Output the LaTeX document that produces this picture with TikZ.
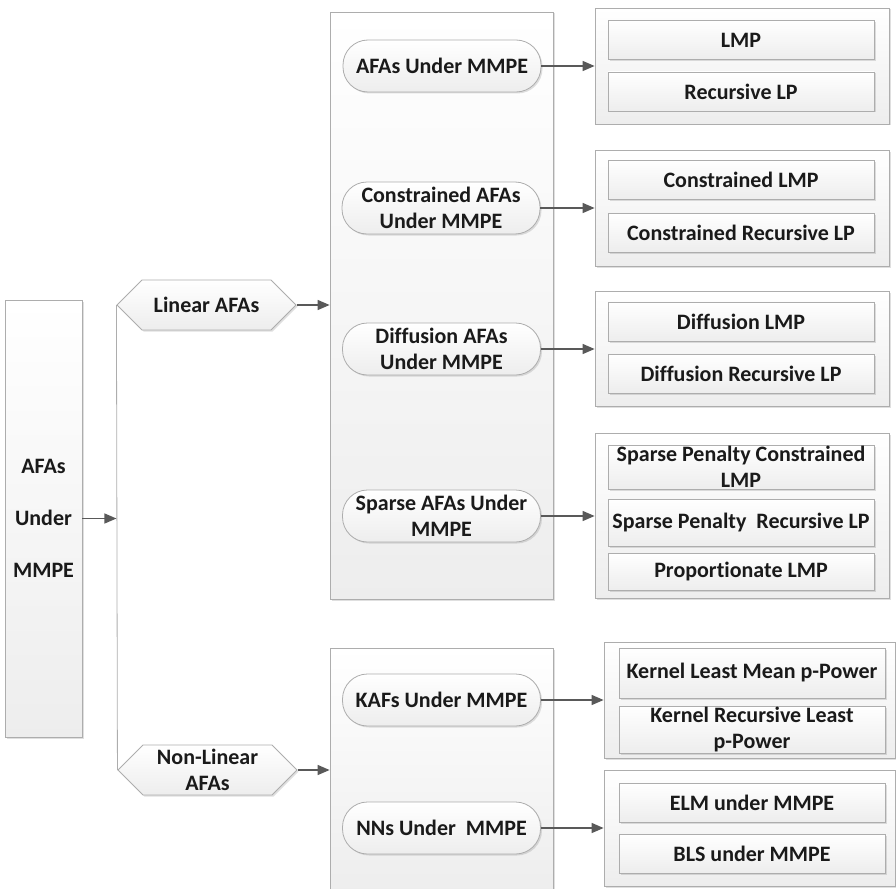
\documentclass[tikz,border=0pt]{standalone}
\usepackage{fontspec}
\setmainfont{Carlito}[Ligatures=NoCommon]
\usetikzlibrary{arrows.meta,shadows,shapes.symbols}
\definecolor{edgegray}{HTML}{ADADAD}
\definecolor{arrowgray}{HTML}{595959}
\definecolor{inkgray}{HTML}{1A1A1A}
\begin{document}
\begin{tikzpicture}[x=1pt,y=-1pt,
  every node/.style={font=\fontsize{22}{26.5}\selectfont\bfseries,text=inkgray,align=center,inner sep=0pt},
  panel/.style={draw=edgegray,line width=.8pt,top color=white,bottom color=black!7,
    drop shadow={shadow xshift=1.5pt,shadow yshift=-1.5pt,opacity=.25}},
  item/.style={panel,minimum width=266pt,minimum height=39pt},
  pill/.style={panel,rounded corners=25pt,minimum width=198pt,minimum height=52pt},
  hexa/.style={panel,signal,signal to=west and east,signal pointer angle=90,minimum width=179pt,minimum height=50pt},
  arr/.style={draw=arrowgray,line width=1.4pt,-{Triangle[length=12pt,width=10pt]}}]
\useasboundingbox (0,0) rectangle (896,888);
\node[panel,minimum width=77pt,minimum height=437pt] (root) at (43.5,518.5) {AFAs\\[25.5pt]Under\\[25.5pt]MMPE};
\node[panel,minimum width=223pt,minimum height=587pt] (linbox) at (441.5,305.5) {};
\node[panel,minimum width=223pt,minimum height=244pt] (nlbox) at (441.5,770) {};
\node[hexa] (lin) at (206.5,305) {Linear AFAs};
\node[hexa] (nonlin) at (207.5,770) {Non-Linear\\AFAs};
\node[pill] (s1) at (442,66) {AFAs Under MMPE};
\node[pill] (s2) at (441,208) {Constrained AFAs\\Under MMPE};
\node[pill] (s3) at (441.5,349) {Diffusion AFAs\\Under MMPE};
\node[pill] (s4) at (441.5,516) {Sparse AFAs Under\\MMPE};
\node[pill] (s5) at (441.5,700) {KAFs Under MMPE};
\node[pill] (s6) at (441.5,828) {NNs Under~~MMPE};
\node[panel,minimum width=294pt,minimum height=116pt] (g1) at (742,66) {};
\node[panel,minimum width=294pt,minimum height=116pt] (g2) at (742,208) {};
\node[panel,minimum width=294pt,minimum height=115pt] (g3) at (742,348.5) {};
\node[panel,minimum width=294pt,minimum height=165pt] (g4) at (742,515.5) {};
\node[panel,minimum width=291pt,minimum height=116pt] (g5) at (749.5,700) {};
\node[panel,minimum width=291pt,minimum height=116pt] (g6) at (749.5,828) {};
\node[item] (lmp) at (741,40) {LMP};
\node[item] (rlp) at (741,91.5) {Recursive LP};
\node[item] (clmp) at (741,179.5) {Constrained LMP};
\node[item] (crlp) at (741,232.5) {Constrained Recursive LP};
\node[item] (dlmp) at (741,321.5) {Diffusion LMP};
\node[item] (drlp) at (741,373.5) {Diffusion Recursive LP};
\node[item,minimum height=44pt] (splmp) at (741,467) {Sparse Penalty Constrained\\LMP};
\node[item,minimum height=47pt] (sprlp) at (741,522.5) {Sparse Penalty~~Recursive LP};
\node[item,minimum height=37pt] (plmp) at (741,571.5) {Proportionate LMP};
\node[item,minimum height=50pt] (klmp) at (752,673) {Kernel Least Mean p-Power};
\node[item,minimum height=47pt] (krlp) at (752,729.5) {Kernel Recursive Least\\p-Power};
\node[item] (elm) at (752,802.5) {ELM under MMPE};
\node[item] (bls) at (752,853.5) {BLS under MMPE};
\draw[draw=edgegray,line width=.8pt] (lin.west) -- (nonlin.west);
\draw[arr] (root.east) -- (root.east -| lin.west);
\draw[arr] (lin.east) -- (lin.east -| linbox.west);
\draw[arr] (nonlin.east) -- (nonlin.east -| nlbox.west);
\draw[arr] (s1.east) -- (s1.east -| g1.west);
\draw[arr] (s2.east) -- (s2.east -| g2.west);
\draw[arr] (s3.east) -- (s3.east -| g3.west);
\draw[arr] (s4.east) -- (s4.east -| g4.west);
\draw[arr] (s5.east) -- (s5.east -| g5.west);
\draw[arr] (s6.east) -- (s6.east -| g6.west);
\end{tikzpicture}
\end{document}
